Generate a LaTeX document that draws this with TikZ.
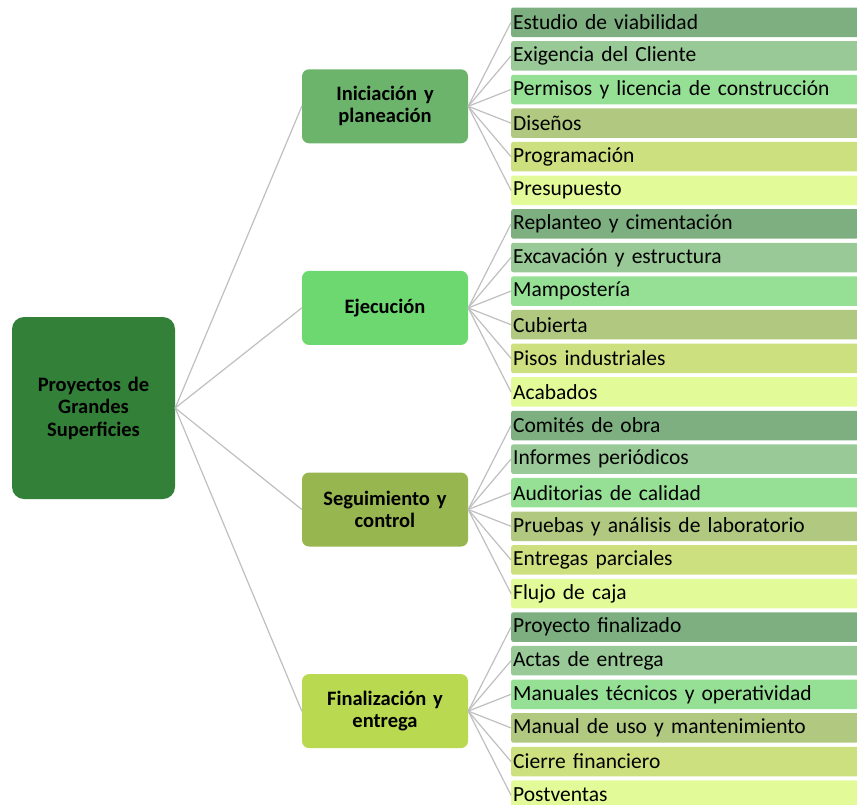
\documentclass[tikz,border=0pt]{standalone}
\usepackage{fontspec}
\setmainfont{Carlito}
\usepackage{tikz}
\usetikzlibrary{positioning}

\definecolor{linea}{RGB}{191,191,191}
\definecolor{raizcol}{RGB}{51,128,56}
\definecolor{fase1}{RGB}{108,180,108}
\definecolor{fase2}{RGB}{109,215,112}
\definecolor{fase3}{RGB}{151,182,80}
\definecolor{fase4}{RGB}{185,217,80}
\definecolor{tarea1}{RGB}{125,175,128}
\definecolor{tarea2}{RGB}{152,201,150}
\definecolor{tarea3}{RGB}{150,224,150}
\definecolor{tarea4}{RGB}{176,200,128}
\definecolor{tarea5}{RGB}{204,224,128}
\definecolor{tarea6}{RGB}{226,250,152}

\tikzset{
  raiz/.style={fill=raizcol, rounded corners=12pt, minimum width=163pt, minimum height=182pt,
    text width=155pt, align=center, font=\bfseries\fontsize{20.5}{22.5}\selectfont},
  fase/.style={rounded corners=7pt, minimum width=166pt, minimum height=74pt,
    text width=158pt, align=center, font=\bfseries\fontsize{20.5}{22}\selectfont},
  tarea/.style={anchor=west, rounded corners=2pt, minimum height=29.5pt, inner xsep=2pt,
    text width=345pt, align=left, font=\fontsize{21.5}{24}\selectfont},
  enlace/.style={draw=linea, line width=1.2pt}
}

\begin{document}
\begin{tikzpicture}[x=1pt, y=-1pt, line join=round, line cap=round]
    \useasboundingbox (0,0) rectangle (857,804);

    % Nodo raíz
    \node[raiz] (R) at (93.5,408) {Proyectos de\\Grandes\\Superficies};

    % Fases del proyecto
    \node[fase, fill=fase1] (F1) at (385,106.3) {Iniciación y\\planeación};
    \node[fase, fill=fase2] (F2) at (385,307.9) {Ejecución};
    \node[fase, fill=fase3] (F3) at (385,509.5) {Seguimiento y\\control};
    \node[fase, fill=fase4] (F4) at (385,711.1) {Finalización y\\entrega};

    % Enlaces raíz -> fases
    \foreach \f in {1,...,4}
        \draw[enlace] (R.east) -- (F\f.west);

    % Tareas de cada fase (seis por fase)
    \foreach \t [count=\i] in {Estudio de viabilidad, Exigencia del Cliente,
        Permisos y licencia de construcción, Diseños, Programación, Presupuesto,
        Replanteo y cimentación, Excavación y estructura, Mampostería, Cubierta,
        Pisos industriales, Acabados,
        Comités de obra, Informes periódicos, Auditorias de calidad,
        Pruebas y análisis de laboratorio, Entregas parciales, Flujo de caja,
        Proyecto finalizado, Actas de entrega, Manuales técnicos y operatividad,
        Manual de uso y mantenimiento, Cierre financiero, Postventas}
    {
        \pgfmathtruncatemacro\k{mod(\i-1,6)+1}
        \pgfmathtruncatemacro\g{div(\i-1,6)+1}
        \node[tarea, fill=tarea\k] (T\i) at (511,{22.3+33.6*(\i-1)}) {\t};
        \draw[enlace] (F\g.east) -- (T\i.west);
    }
\end{tikzpicture}
\end{document}
